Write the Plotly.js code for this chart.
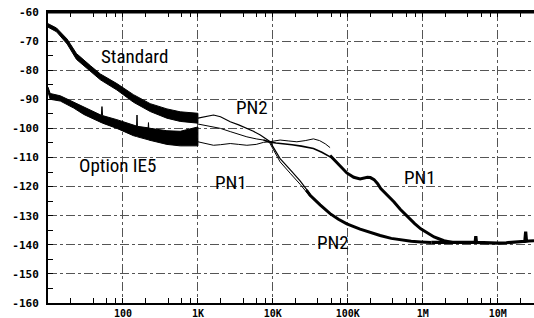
<!DOCTYPE html>
<html>
<head>
<meta charset="utf-8">
<script src="https://cdn.plot.ly/plotly-3.0.1.min.js"></script>
<style>html,body{margin:0;padding:0;background:#fff}#chart{width:534px;height:318px}</style>
</head>
<body>
<div id="chart"></div>
<script>
// ---- data (offset frequency in Hz, phase noise in dBc/Hz) ----
var stdFreq  = [10, 13, 18, 24, 37, 50, 83, 138, 231, 386, 581, 1000];
var stdUpper = [-64, -65.5, -69.3, -74.3, -78.5, -81.3, -84.6, -88.4, -91.5, -93.3, -94.3, -94.8];
var stdLower = [-65.2, -66.8, -71, -76.3, -80.3, -83.3, -86.8, -91, -94.2, -96.5, -97.6, -98.2];

var ie5Freq  = [10, 10.7, 14.6, 22, 30, 50, 51.5, 52.5, 53.5, 83, 138, 152, 154, 156, 217, 219, 221, 386, 581, 1000];
var ie5Upper = [-85.8, -88, -88.8, -91, -92.8, -95.3, -95.5, -92.5, -95.6, -97, -98.8, -99.2, -95.4, -99.3, -99.8, -98, -99.9, -100.8, -101, -99.5];
var ie5Lower = [-87.5, -90, -90.6, -93, -95.2, -98, -98.1, -98.1, -98.2, -100, -102.5, -102.8, -102.8, -102.9, -103.9, -103.9, -104, -105.5, -106, -106];

// thin traces between 1 kHz and the merge points
var pnA_f = [1000, 1300, 1615, 2000, 2700, 3500, 4500, 5500, 6800, 8000, 9200, 10200, 11300, 12500, 17000, 23100, 31400];
var pnA_v = [-96.5, -95.8, -95.4, -96, -97.7, -98.8, -100, -101, -102.3, -103.5, -104.6, -106.6, -108.6, -110.4, -114.2, -118, -122.6];
var pnB_f = [1000, 1300, 1615, 2000, 2700, 3500, 4500, 6000, 7500, 9000, 10200, 11300, 12500, 17000, 23100, 31400];
var pnB_v = [-98.5, -99, -99.4, -100, -101.1, -102, -102.9, -103.6, -104, -104.8, -107.4, -109.6, -111.5, -115.4, -119.2, -123.4];
var pnC_f = [1000, 1300, 1615, 2000, 2700, 3500, 4500, 6000, 7500, 9000, 10500, 12500, 16000, 20900, 27000, 34800, 42000, 50000, 58000];
var pnC_v = [-104.6, -105.3, -105.8, -105.6, -105.2, -105.5, -105.8, -105.5, -104.8, -104.6, -104.3, -104, -104.3, -104.6, -104.2, -103.6, -104.2, -105.3, -106.6];
var pnD_f = [7500, 9000, 11000, 13700, 18000, 24000, 34800, 45000, 58000, 64000];
var pnD_v = [-104, -104.7, -105, -105.2, -105.6, -106.1, -106.9, -108.2, -109.6, -110.4];

// merged thick traces
var pn2_f = [28000, 31400, 42700, 58000, 75000, 97000, 146000, 200000, 270000, 380000, 509000, 700000, 940000, 1300000];
var pn2_v = [-121.2, -123, -126.3, -129.3, -131.2, -132.8, -134.6, -135.8, -136.8, -137.8, -138.4, -138.8, -139, -139.2];
var pn1_f = [58000, 64000, 80000, 97000, 120000, 146000, 182000, 200000, 224000, 250000, 275000, 340000, 414000, 500000, 623000, 780000, 940000, 1150000, 1415000, 1700000, 1920000, 2500000];
var pn1_v = [-109.3, -110.5, -113, -115.3, -116.8, -117.4, -116.8, -116.9, -117.6, -119, -120.7, -123, -125.3, -127.8, -130.4, -132.7, -134.5, -136, -137.3, -138.1, -138.6, -139.2];
var floor_f = [1300000, 2000000, 3000000, 4000000, 5000000, 5100000, 5200000, 6000000, 8000000, 10000000, 13000000, 17000000, 21000000, 23000000, 23600000, 24200000, 26000000, 30500000];
var floor_v = [-139.2, -139.3, -139.3, -139.2, -139.2, -137, -139.2, -139.3, -139.4, -139.4, -139.3, -139.1, -138.9, -138.8, -135.5, -138.8, -138.7, -138.6];

var xTickVals = [100, 1000, 10000, 100000, 1000000, 10000000];
var xTickText = ['100', '1K', '10K', '100K', '1M', '10M'];
var xMinor = [20, 40, 60, 80, 200, 400, 600, 800, 2000, 4000, 6000, 8000, 20000, 40000, 60000, 80000,
              200000, 400000, 600000, 800000, 2000000, 4000000, 6000000, 8000000, 20000000];
var yTickVals = [-160, -150, -140, -130, -120, -110, -100, -90, -80, -70, -60];
var yTickText = ['-160', '-150', '-140', '-130', '-120', '-110', '-100', '-90', '-80', '-70', '-60'];

var labels = [
  {text: 'Standard',   x: 0.177, y: 0.846},
  {text: 'Option IE5', x: 0.143, y: 0.474},
  {text: 'PN2',        x: 0.420, y: 0.673},
  {text: 'PN1',        x: 0.376, y: 0.413},
  {text: 'PN2',        x: 0.586, y: 0.207},
  {text: 'PN1',        x: 0.765, y: 0.431}
];

// ---- build traces ----
function band(f, up, lo) {
  return {
    x: f.concat(f.slice().reverse()),
    y: up.concat(lo.slice().reverse()),
    mode: 'lines', fill: 'toself', fillcolor: '#000',
    line: {color: '#000', width: 1}, hoverinfo: 'skip', showlegend: false
  };
}
function line(f, v, w) {
  return {x: f, y: v, mode: 'lines', line: {color: '#000', width: w}, showlegend: false};
}

var traces = [
  band(stdFreq, stdUpper, stdLower),
  band(ie5Freq, ie5Upper, ie5Lower),
  line(pnA_f, pnA_v, 1.2),
  line(pnB_f, pnB_v, 1),
  line(pnC_f, pnC_v, 1),
  line(pnD_f, pnD_v, 1.6),
  line(pn2_f, pn2_v, 3),
  line(pn1_f, pn1_v, 3),
  line(floor_f, floor_v, 3.2)
];

var yFont = {family: 'DejaVu Sans Mono, Liberation Mono, monospace', size: 11, color: '#000', weight: 'bold'};
var xFont = {family: 'DejaVu Sans Mono, Liberation Mono, monospace', size: 10, color: '#000', weight: 'bold'};

var layout = {
  width: 534, height: 318,
  margin: {l: 48, r: 0, t: 12, b: 15, pad: 0},
  paper_bgcolor: '#fff', plot_bgcolor: '#fff',
  showlegend: false,
  xaxis: {
    type: 'log', range: [1, 7.484],
    tickmode: 'array', tickvals: xTickVals, ticktext: xTickText,
    tickfont: xFont, ticks: 'inside', ticklen: 5, tickcolor: '#000',
    showline: true, linecolor: '#000', linewidth: 2, mirror: 'ticks',
    showgrid: true, gridcolor: '#555', gridwidth: 1, griddash: 'dashdot',
    zeroline: false, ticklabelstandoff: 0,
    minor: {tickmode: 'array', tickvals: xMinor, ticks: 'inside', ticklen: 5, tickcolor: '#000', tickwidth: 1, showgrid: false}
  },
  yaxis: {
    range: [-160, -60],
    tickmode: 'array', tickvals: yTickVals, ticktext: yTickText,
    tickfont: yFont, ticks: 'inside', ticklen: 5, tickcolor: '#000',
    showline: true, linecolor: '#000', linewidth: 2, mirror: false,
    showgrid: true, gridcolor: '#555', gridwidth: 1, griddash: 'dashdot',
    zeroline: false, ticklabelstandoff: 5,
    minor: {dtick: 5, ticks: 'inside', ticklen: 5, tickcolor: '#000', tickwidth: 1, showgrid: false}
  },
  annotations: labels.map(function (l) {
    return {
      text: l.text, x: l.x, y: l.y, xref: 'paper', yref: 'paper',
      showarrow: false, xanchor: 'center', yanchor: 'middle',
      font: {family: 'Liberation Sans Narrow, Roboto Condensed, Arial Narrow, Liberation Sans, sans-serif', size: 19, color: '#000'}
    };
  }),
  shapes: [
    {type: 'line', xref: 'paper', yref: 'paper', x0: 0, x1: 1, y0: 1, y1: 1, line: {color: '#000', width: 3}}
  ]
};

Plotly.newPlot('chart', traces, layout, {displayModeBar: false, staticPlot: true});
</script>
</body>
</html>
